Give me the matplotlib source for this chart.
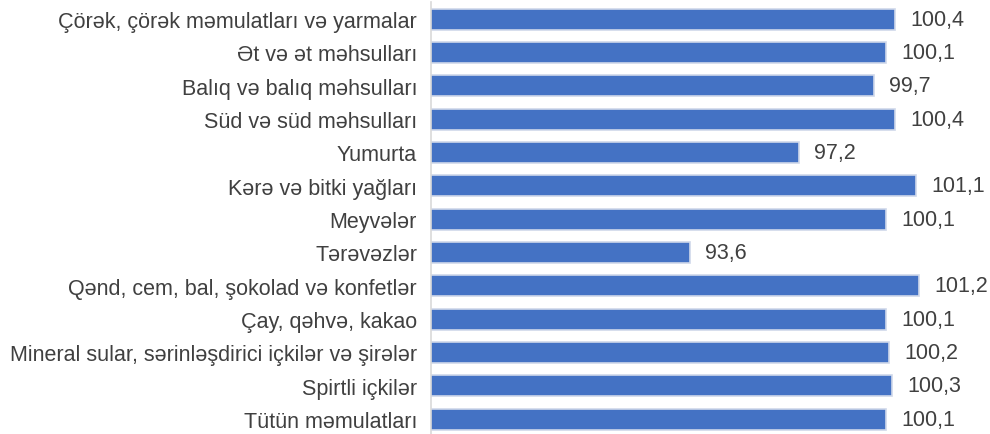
import matplotlib.pyplot as plt

categories = ['Çörək, çörək məmulatları və yarmalar', 'Ət və ət məhsulları',
              'Balıq və balıq məhsulları', 'Süd və süd məhsulları', 'Yumurta',
              'Kərə və bitki yağları', 'Meyvələr', 'Tərəvəzlər',
              'Qənd, cem, bal, şokolad və konfetlər', 'Çay, qəhvə, kakao',
              'Mineral sular, sərinləşdirici içkilər və şirələr',
              'Spirtli içkilər', 'Tütün məmulatları']
values = [100.4, 100.1, 99.7, 100.4, 97.2, 101.1, 100.1, 93.6,
          101.2, 100.1, 100.2, 100.3, 100.1]

plt.rcParams['font.family'] = ['Liberation Sans', 'DejaVu Sans']

fig = plt.figure(figsize=(9.9, 4.35), dpi=100)
ax = fig.add_axes([431 / 990, -0.004, 0.548, 0.996])

y = list(range(len(categories)))
ax.barh(y, values, height=0.63, left=0, color='#4472C4',
        edgecolor='#CFD8EA', linewidth=1.2)
ax.set_xlim(85, 103)
ax.set_ylim(len(categories) - 0.5, -0.5)

for yi, v in zip(y, values):
    ax.text(v + 0.5, yi, f'{v:.1f}'.replace('.', ','), va='center', ha='left',
            fontsize=15.5, color='#404040')

ax.set_yticks(y)
ax.set_yticklabels(categories, fontsize=15.5, color='#404040')
ax.tick_params(axis='y', length=0, pad=10)
ax.set_xticks([])
for s in ['top', 'right', 'bottom']:
    ax.spines[s].set_visible(False)
ax.spines['left'].set_color('#D9D9D9')
ax.spines['left'].set_linewidth(1.2)

fig.savefig('out.png', dpi=100)
